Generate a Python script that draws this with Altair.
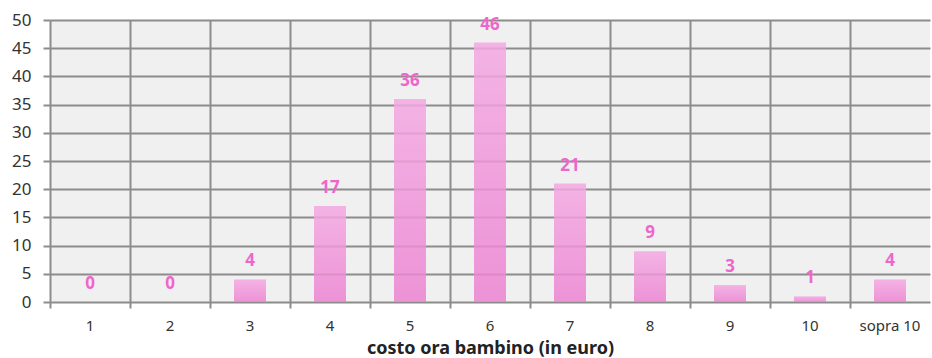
import altair as alt
import pandas as pd

categories = ["1", "2", "3", "4", "5", "6", "7", "8", "9", "10", "sopra 10"]
values = [0, 0, 4, 17, 36, 46, 21, 9, 3, 1, 4]
y_ticks = [0, 5, 10, 15, 20, 25, 30, 35, 40, 45, 50]

df = pd.DataFrame({"cat": categories, "val": values})

FONT = "Noto Sans"
GRID = "#8c8c8c"

x = alt.X("cat:N", sort=categories, title="costo ora bambino (in euro)",
          scale=alt.Scale(paddingInner=0, paddingOuter=0),
          axis=alt.Axis(labelAngle=0, bandPosition=0, grid=True, gridColor=GRID, gridWidth=2,
                        tickColor=GRID, tickWidth=2, tickSize=6, domain=False,
                        labelFont=FONT, labelFontSize=15, labelColor="#333333", labelPadding=10,
                        labelOverlap=False,
                        titleFont=FONT, titleFontSize=18, titleFontWeight="bold", titleColor="#222222",
                        titlePadding=6))
y = alt.Y("val:Q", title=None,
          scale=alt.Scale(domain=[0, 50], nice=False),
          axis=alt.Axis(values=y_ticks, grid=True, gridColor=GRID, gridWidth=2,
                        tickColor=GRID, tickWidth=2, tickSize=7, domain=False, labelOverlap=False,
                        labelFont=FONT, labelFontSize=17, labelColor="#333333", labelPadding=12))

base = alt.Chart(df).encode(x=x, y=y)

bars = base.mark_bar(
    opacity=0.85,
    width=alt.RelativeBandSize(0.4),
    color=alt.Gradient(gradient="linear", x1=0, x2=0, y1=0, y2=1,
                       stops=[alt.GradientStop(color="#f4a8e2", offset=0),
                              alt.GradientStop(color="#ec82d2", offset=1)])
)

labels = base.mark_text(
    dy=-13, font=FONT, fontSize=17, fontWeight="bold", color="#ee66cc", baseline="alphabetic"
).encode(text="val:Q")

chart = alt.layer(bars, labels).properties(
    width=880, height=282,
    autosize=alt.AutoSizeParams(type="none"),
    padding={"left": 50, "top": 20, "right": 2, "bottom": 56},
    background="white",
).configure_view(fill="#f0f0f0", stroke=None)

chart.save("out.html", embed_options={"renderer": "svg", "actions": False})
